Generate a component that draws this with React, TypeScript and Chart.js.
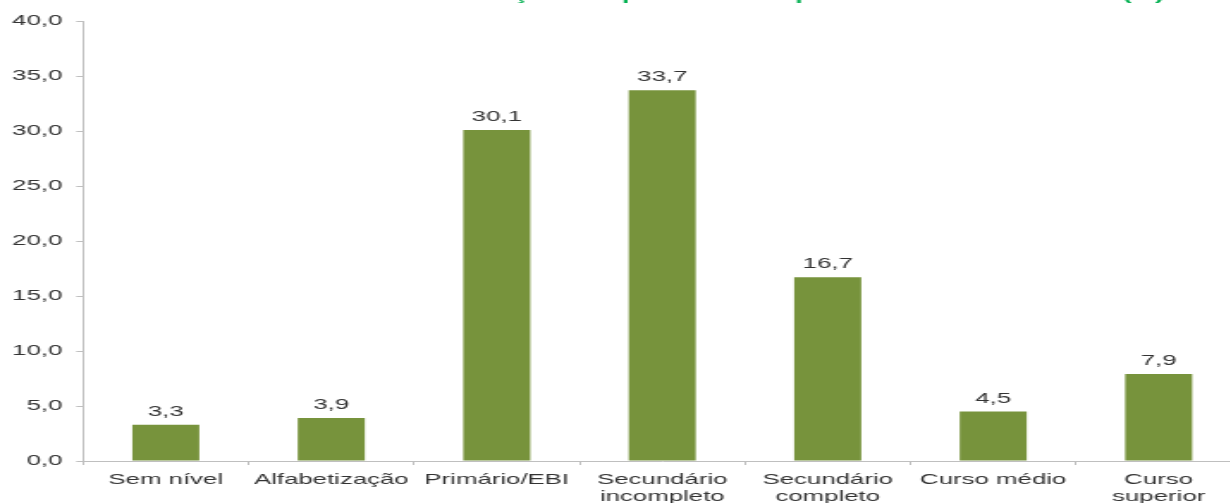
import React, { useEffect, useRef } from 'react';
import { Chart, registerables } from 'chart.js';

Chart.register(...registerables);

// ---- data ----
const categories: (string | string[])[] = [
  'Sem nível',
  'Alfabetização',
  'Primário/EBI',
  ['Secundário', 'incompleto'],
  ['Secundário', 'completo'],
  'Curso médio',
  ['Curso', 'superior'],
];
const values = [3.3, 3.9, 30.1, 33.7, 16.7, 4.5, 7.9];
const yMin = 0;
const yMax = 40;
const yStep = 5;
const titleText = 'Distribuição dos profissionais por nível de escolaridade (%)';

// ---- styles ----
const BAR_COLOR = '#77933C';
const AXIS_COLOR = '#BFBFBF';
const TEXT_COLOR = '#333333';
const TITLE_COLOR = '#00B050';
const FONT = '"Liberation Sans", Arial, sans-serif';

// internal canvas size (stretched horizontally by CSS, as in the reference)
const INNER_W = 727;
const INNER_H = 515;
const CSS_W = 1250;

const fmt = (v: number) => v.toFixed(1).replace('.', ',');

const valueLabelPlugin = {
  id: 'valueLabels',
  afterDatasetsDraw(chart: any) {
    const ctx = chart.ctx;
    const meta = chart.getDatasetMeta(0);
    ctx.save();
    ctx.font = `15px ${FONT}`;
    ctx.fillStyle = TEXT_COLOR;
    ctx.textAlign = 'center';
    ctx.textBaseline = 'alphabetic';
    meta.data.forEach((bar: any, i: number) => {
      ctx.fillText(fmt(values[i]), bar.x, bar.y - 9);
    });
    ctx.restore();
  },
};

const clippedTitlePlugin = {
  id: 'clippedTitle',
  afterDraw(chart: any) {
    const ctx = chart.ctx;
    ctx.save();
    ctx.font = `bold 15.5px ${FONT}`;
    ctx.fillStyle = TITLE_COLOR;
    ctx.textAlign = 'right';
    ctx.textBaseline = 'alphabetic';
    ctx.fillText(titleText, 677, -0.5);
    ctx.restore();
  },
};

export default function App() {
  const canvasRef = useRef<HTMLCanvasElement | null>(null);

  useEffect(() => {
    const canvas = canvasRef.current;
    if (!canvas) return;
    const chart = new Chart(canvas, {
      type: 'bar',
      data: {
        labels: categories as any,
        datasets: [
          {
            data: values,
            backgroundColor: BAR_COLOR,
            borderWidth: 0,
            barPercentage: 0.405,
            categoryPercentage: 1,
          },
        ],
      },
      options: {
        responsive: false,
        maintainAspectRatio: false,
        devicePixelRatio: 1,
        animation: false,
        layout: { padding: { top: 21, right: 5, bottom: 0, left: 0 } },
        plugins: {
          legend: { display: false },
          tooltip: { enabled: false },
          title: { display: false },
        },
        scales: {
          x: {
            offset: true,
            grid: {
              offset: true,
              drawOnChartArea: false,
              drawTicks: true,
              tickLength: 4,
              color: AXIS_COLOR,
            },
            border: { display: true, color: AXIS_COLOR, width: 1 },
            ticks: {
              color: TEXT_COLOR,
              font: { family: FONT, size: 15, lineHeight: 1.13 },
              padding: 6,
              maxRotation: 0,
              minRotation: 0,
              autoSkip: false,
            },
            afterFit: (s: any) => {
              s.height = 54;
            },
          },
          y: {
            min: yMin,
            max: yMax,
            grid: {
              drawOnChartArea: false,
              drawTicks: true,
              tickLength: 4,
              color: AXIS_COLOR,
            },
            border: { display: true, color: AXIS_COLOR, width: 1 },
            ticks: {
              stepSize: yStep,
              color: TEXT_COLOR,
              font: { family: FONT, size: 15 },
              padding: 8,
              callback: (v: any) => fmt(Number(v)),
            },
            afterFit: (s: any) => {
              s.width = 48.3;
            },
          },
        },
      },
      plugins: [valueLabelPlugin, clippedTitlePlugin],
    });
    return () => chart.destroy();
  }, []);

  return (
    <div
      style={{
        position: 'absolute',
        left: 0,
        top: 0,
        width: 1230,
        height: 503,
        overflow: 'hidden',
        background: '#ffffff',
      }}
    >
      <canvas
        ref={canvasRef}
        width={INNER_W}
        height={INNER_H}
        style={{ width: `${CSS_W}px`, height: `${INNER_H}px`, display: 'block' }}
      />
    </div>
  );
}
